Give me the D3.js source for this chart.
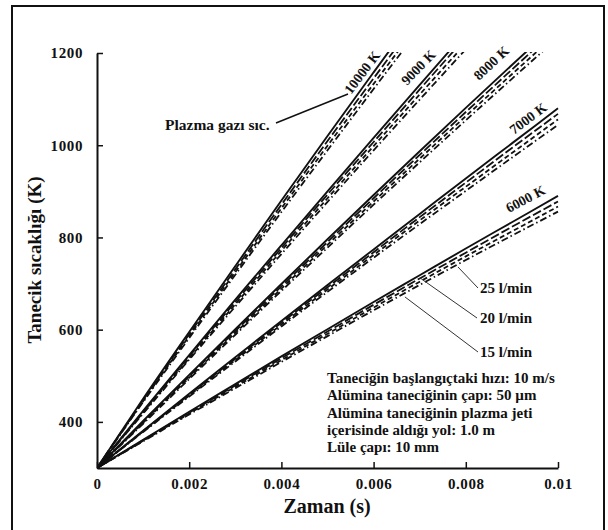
<!DOCTYPE html>
<html><head><meta charset="utf-8">
<script src="https://cdn.jsdelivr.net/npm/d3@7/dist/d3.min.js"></script>
<style>
body{margin:0;background:#fff;}
text{font-family:"Liberation Serif","Times New Roman",serif;fill:#111;}
</style></head>
<body><svg id="c" width="608" height="530"></svg>
<script>
// ---- data ----
const times = [0,0.001,0.002,0.003,0.004,0.005,0.006,0.007,0.008,0.009,0.01];
const gasTemps = ["6000 K","7000 K","8000 K","9000 K","10000 K"];
const lineStyles = ["solid","25 l/min","20 l/min","15 l/min"];
const T6000 = [
 [300,361,422,482,542,601,660,718,776,833,890],
 [300,360,420,479,538,596,654,711,767,823,878],
 [300,359,418,476,534,591,648,704,759,813,867],
 [300,358,416,473,530,586,642,697,751,804,856]];
const T7000 = [
 [300,381,461,540,619,697,774,851,928,1004,1080],
 [300,380,459,537,615,692,768,844,919,994,1068],
 [300,379,457,534,611,687,762,837,910,983,1056],
 [300,378,455,531,607,682,756,829,901,973,1044]];
const T8000 = [
 [300,402,502,601,699,796,892,987,1081,1174,1266],
 [300,400,499,597,694,790,885,979,1072,1164,1255],
 [300,398,496,593,689,784,878,971,1063,1154,1244],
 [300,396,493,589,684,778,871,963,1054,1144,1233]];
const T9000 = [
 [300,424,545,665,783,900,1016,1131,1245,1358,1470],
 [300,422,542,660,777,893,1007,1121,1234,1346,1457],
 [300,420,538,655,771,885,998,1110,1221,1331,1440],
 [300,418,535,650,764,877,989,1099,1208,1316,1423]];
const T10000 = [
 [300,450,595,738,880,1020,1158,1295,1430,1564,1697],
 [300,447,590,731,871,1009,1145,1280,1413,1545,1676],
 [300,445,586,725,863,999,1133,1266,1398,1528,1657],
 [300,443,582,719,855,989,1122,1253,1383,1512,1640]];
const yTicks = [400,600,800,1000,1200];
const xTicks = [0,0.002,0.004,0.006,0.008,0.01];
const xTickLabels = ["0","0.002","0.004","0.006","0.008","0.01"];
const flowLabels = ["25 l/min","20 l/min","15 l/min"];
const flowTips = [[0.00783,736],[0.00701,712],[0.00668,671]];
const infoLines = ["Taneciğin başlangıçtaki hızı: 10 m/s","Alümina taneciğinin çapı: 50 µm",
 "Alümina taneciğinin plazma jeti","içerisinde aldığı yol: 1.0 m","Lüle çapı: 10 mm"];

// ---- layout ----
const svg = d3.select("#c");
const x = d3.scaleLinear().domain([0,0.01]).range([97,558]);
const y = d3.scaleLinear().domain([300,1200]).range([468,53]);

svg.append("rect").attr("x",12).attr("y",6).attr("width",592).attr("height",540)
  .attr("fill","none").attr("stroke","#111").attr("stroke-width",2);

svg.append("defs").append("clipPath").attr("id","clip").append("rect")
  .attr("x",97).attr("y",52).attr("width",462).attr("height",417);

const dashes = [null,"9,3","5,3","7,3,1.5,3"];
const line = d3.line().x((d,i)=>x(times[i])).y(d=>y(d)).curve(d3.curveMonotoneX);
const g = svg.append("g").attr("clip-path","url(#clip)");
[T6000,T7000,T8000,T9000,T10000].forEach(set=>{
  set.forEach((vals,k)=>{
    g.append("path").attr("d",line(vals)).attr("fill","none").attr("stroke","#111")
      .attr("stroke-width",k===0?1.9:1.8).attr("stroke-dasharray",dashes[k]);
  });
});

// axes
const xa = svg.append("g").attr("transform","translate(0,468)")
  .call(d3.axisBottom(x).tickValues(xTicks).tickSizeInner(-6).tickSizeOuter(0)
  .tickFormat((d,i)=>xTickLabels[i]));
const ya = svg.append("g").attr("transform","translate(97,0)")
  .call(d3.axisLeft(y).tickValues(yTicks).tickSizeInner(-6).tickSizeOuter(0)
  .tickFormat(d=>String(d)));
[xa,ya].forEach(a=>{
  a.select(".domain").attr("stroke","#111").attr("stroke-width",2);
  a.selectAll(".tick line").attr("stroke","#111").attr("stroke-width",1.5);
  a.selectAll("text").attr("font-size",15).attr("font-weight","bold")
   .attr("font-family","Liberation Serif, serif").attr("fill","#111")
   .attr("letter-spacing",0.6);
});
xa.selectAll("text").attr("y",10);
ya.selectAll("text").attr("x",-14);

svg.append("text").attr("x",327).attr("y",513).attr("text-anchor","middle")
  .attr("font-size",20).attr("font-weight","bold").text("Zaman (s)");
svg.append("text").attr("transform","translate(41,260) rotate(-90)").attr("text-anchor","middle")
  .attr("font-size",19).attr("font-weight","bold").text("Tanecik sıcaklığı (K)");

// temperature labels
const labelPos = [[509,213,-28],[514,135,-37],[479,81,-43],[407,86,-46],[351,95,-53]];
gasTemps.forEach((t,i)=>{
  const p = labelPos[i];
  svg.append("text").attr("transform",`translate(${p[0]},${p[1]}) rotate(${p[2]})`)
    .attr("font-size",14).attr("font-weight","bold").text(t);
});

// plasma pointer
svg.append("line").attr("x1",276).attr("y1",123).attr("x2",348).attr("y2",94)
  .attr("stroke","#111").attr("stroke-width",1.5);
svg.append("text").attr("x",165).attr("y",130).attr("font-size",15.5).attr("font-weight","bold")
  .text("Plazma gazı sıc.");

// flow labels
const flowEnds = [[478,288],[477,318],[478,352]];
flowLabels.forEach((l,i)=>{
  svg.append("line").attr("x1",x(flowTips[i][0])).attr("y1",y(flowTips[i][1]))
    .attr("x2",flowEnds[i][0]).attr("y2",flowEnds[i][1]).attr("stroke","#333").attr("stroke-width",1);
  svg.append("text").attr("x",480).attr("y",flowEnds[i][1]+5).attr("font-size",15)
    .attr("font-weight","bold").text(l);
});

// info text
infoLines.forEach((l,i)=>{
  svg.append("text").attr("x",327).attr("y",383+i*17.3).attr("font-size",15)
    .attr("font-weight","bold").text(l);
});
</script></body></html>
